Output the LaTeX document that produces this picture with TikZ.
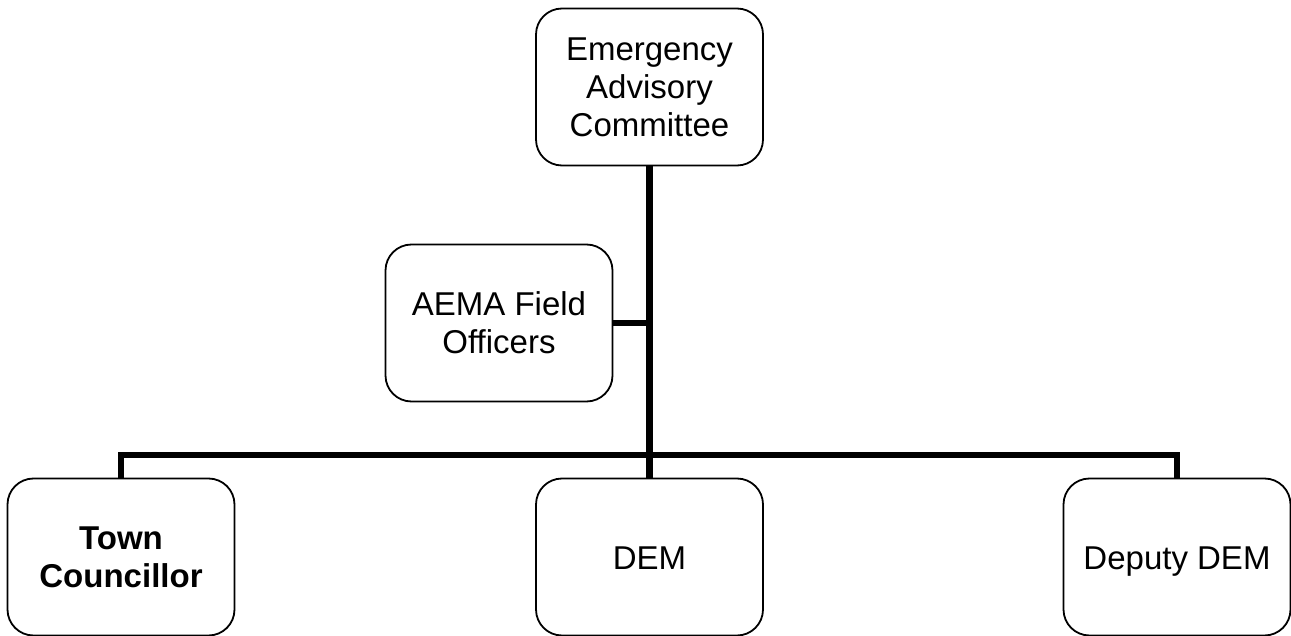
\documentclass[tikz,border=0pt]{standalone}
\usepackage{fontspec}
\setmainfont{Liberation Sans}
\usepackage{tikz}
\usetikzlibrary{positioning,calc}

\begin{document}
\begin{tikzpicture}[x=1pt,y=-1pt,
  box/.style={draw,line width=1.8pt,rounded corners=26pt,fill=white,align=center,minimum width=227pt,minimum height=157pt,inner sep=0pt,font=\fontsize{33}{38}\selectfont},
  oneline/.style={text height=24pt,text depth=0pt},
  link/.style={line width=6.5pt,line join=miter}]
\useasboundingbox (0,0) rectangle (1291,636);
\node[box] (eac) at (649.5,87) {Emergency\\Advisory\\Committee};
\node[box] (aema) at (499,323) {AEMA Field\\Officers};
\node[box] (town) at (121,557) {\textbf{Town}\\\textbf{Councillor}};
\node[box,oneline] (dem) at (649.5,557) {DEM};
\node[box,oneline] (dep) at (1177,557) {Deputy DEM};
\coordinate (bus) at (649.5,455);
\draw[link] (eac.south)--(dem.north);
\draw[link] (aema.east)--(aema.east -| eac.south);
\draw[link] (town.north)--(town.north |- bus)-|(dep.north);
\end{tikzpicture}
\end{document}
